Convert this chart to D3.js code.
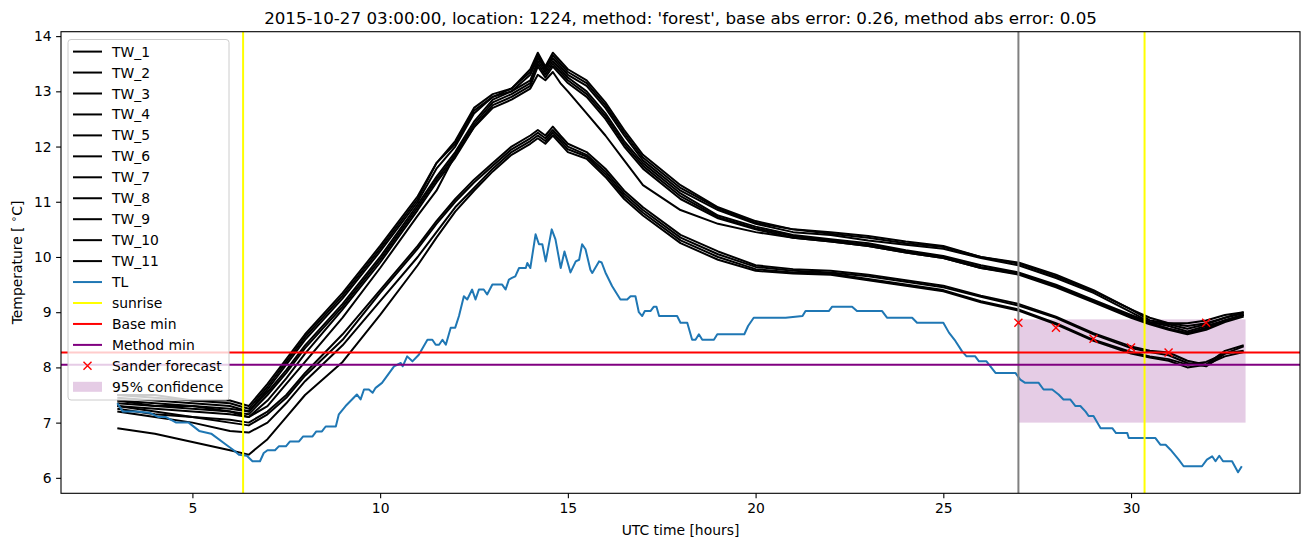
<!DOCTYPE html>
<html><head><meta charset="utf-8">
<script src="https://cdn.jsdelivr.net/npm/d3@7"></script>
<style>body{margin:0;background:#fff}svg{display:block}text{font-family:"DejaVu Sans",sans-serif;fill:#000}</style>
</head><body><svg id="c" width="1311" height="547"></svg>
<script>
// ---------------- data ----------------
const twHours = [3,4,5,6,6.5,7,7.5,8,9,10,11,11.5,12,12.5,13,13.5,14,14.2,14.4,14.6,14.8,15,15.5,16,16.5,17,18,19,20,21,22,23,24,25,26,27,28,29,30,30.5,31,31.5,32,32.5,33];
const tw1  = [7.5,7.45,7.4,7.4,7.3,7.7,8.15,8.6,9.35,10.2,11.1,11.7,12.1,12.7,12.95,13.05,13.4,13.7,13.45,13.7,13.55,13.4,13.2,12.8,12.3,11.85,11.3,10.9,10.65,10.5,10.45,10.38,10.28,10.2,10.0,9.9,9.68,9.4,9.05,8.9,8.8,8.8,8.85,8.95,9.0];
const tw2  = [7.5,7.5,7.4,7.35,7.25,7.65,8.1,8.55,9.3,10.15,11.05,11.7,12.05,12.65,12.9,13.05,13.35,13.65,13.4,13.65,13.5,13.35,13.15,12.75,12.25,11.8,11.25,10.88,10.62,10.5,10.42,10.35,10.25,10.18,10.0,9.88,9.65,9.38,9.05,8.85,8.8,8.75,8.8,8.9,9.0];
const tw3  = [7.45,7.4,7.35,7.3,7.2,7.6,8.05,8.5,9.25,10.1,11.0,11.6,12.0,12.6,12.9,13.0,13.3,13.6,13.4,13.6,13.45,13.3,13.1,12.7,12.2,11.75,11.2,10.85,10.6,10.45,10.4,10.3,10.22,10.15,9.98,9.85,9.62,9.35,9.0,8.82,8.78,8.7,8.78,8.9,8.98];
const tw4  = [7.4,7.35,7.3,7.25,7.2,7.55,7.95,8.4,9.15,10.0,10.95,11.45,11.9,12.45,12.85,13.0,13.2,13.55,13.35,13.55,13.4,13.25,13.0,12.6,12.1,11.7,11.15,10.75,10.55,10.4,10.32,10.25,10.12,10.02,9.85,9.72,9.5,9.22,8.95,8.82,8.75,8.65,8.75,8.85,8.95];
const tw5  = [7.4,7.3,7.3,7.2,7.15,7.5,7.9,8.35,9.1,9.95,10.9,11.4,11.85,12.4,12.8,12.95,13.15,13.5,13.3,13.5,13.35,13.2,12.95,12.55,12.05,11.65,11.1,10.72,10.52,10.38,10.3,10.22,10.1,10.0,9.82,9.7,9.48,9.2,8.92,8.8,8.7,8.62,8.7,8.85,8.95];
const tw6  = [7.35,7.3,7.25,7.2,7.1,7.4,7.8,8.25,9.05,9.9,10.85,11.35,11.8,12.35,12.75,12.9,13.1,13.45,13.25,13.45,13.3,13.15,12.9,12.5,12.0,11.6,11.05,10.7,10.5,10.35,10.28,10.2,10.08,9.98,9.8,9.68,9.45,9.18,8.9,8.78,8.68,8.6,8.68,8.82,8.92];
const tw7  = [7.3,7.25,7.2,7.15,7.1,7.3,7.7,8.1,8.9,9.8,10.75,11.2,11.85,12.35,12.7,12.85,13.05,13.3,13.2,13.35,13.15,13.0,12.6,12.2,11.75,11.3,10.85,10.6,10.45,10.35,10.28,10.2,10.08,9.98,9.8,9.7,9.47,9.2,8.92,8.8,8.7,8.62,8.72,8.85,8.95];
const tw8  = [7.3,7.2,7.1,7.05,7.0,7.2,7.5,7.9,8.6,9.4,10.2,10.65,11.05,11.4,11.7,12.0,12.2,12.3,12.2,12.36,12.2,12.05,11.9,11.6,11.2,10.9,10.4,10.1,9.85,9.78,9.75,9.68,9.58,9.48,9.3,9.15,8.92,8.62,8.38,8.3,8.27,8.12,8.05,8.3,8.4];
const tw9  = [7.25,7.15,7.1,7.0,6.95,7.15,7.45,7.85,8.5,9.35,10.15,10.6,11.0,11.35,11.65,11.95,12.15,12.25,12.15,12.3,12.15,12.0,11.85,11.55,11.15,10.85,10.35,10.05,9.82,9.75,9.72,9.65,9.55,9.45,9.28,9.12,8.9,8.6,8.35,8.28,8.22,8.08,8.02,8.25,8.38];
const tw10 = [7.2,7.1,7.0,6.85,6.82,7.0,7.35,7.75,8.4,9.2,10.0,10.45,10.9,11.25,11.6,11.9,12.1,12.2,12.1,12.25,12.1,11.95,11.82,11.5,11.1,10.8,10.3,10.0,9.78,9.72,9.7,9.6,9.5,9.4,9.2,9.05,8.8,8.5,8.28,8.2,8.15,8.05,8.1,8.25,8.3];
const tw11 = [6.9,6.8,6.65,6.5,6.42,6.7,7.1,7.5,8.1,8.95,9.85,10.35,10.82,11.2,11.55,11.85,12.05,12.15,12.05,12.2,12.05,11.9,11.78,11.45,11.05,10.75,10.25,9.95,9.75,9.7,9.68,9.58,9.48,9.38,9.18,9.03,8.78,8.48,8.25,8.18,8.12,8.0,8.05,8.2,8.28];
const twNames = ["TW_1","TW_2","TW_3","TW_4","TW_5","TW_6","TW_7","TW_8","TW_9","TW_10","TW_11"];

const tlHours = [3.0,3.15,3.5,3.85,4.1,4.3,4.57,4.9,5.18,5.5,5.9,6.1,6.24,6.45,6.6,6.8,6.9,7.0,7.2,7.3,7.49,7.6,7.84,7.95,8.2,8.3,8.45,8.55,8.82,8.9,9.08,9.25,9.38,9.48,9.57,9.7,9.8,9.88,10.05,10.37,10.55,10.6,10.72,10.86,11.03,11.26,11.39,11.48,11.57,11.66,11.75,11.88,12.0,12.1,12.23,12.32,12.45,12.54,12.63,12.76,12.85,12.99,13.25,13.34,13.43,13.51,13.6,13.7,13.88,13.92,14.0,14.14,14.23,14.32,14.41,14.57,14.67,14.81,14.91,15.07,15.21,15.3,15.38,15.47,15.6,15.65,15.83,15.9,16.0,16.18,16.4,16.58,16.67,16.8,16.89,16.98,17.05,17.2,17.29,17.36,17.43,17.91,18.0,18.18,18.31,18.4,18.49,18.58,18.89,18.98,19.7,19.8,19.95,20.8,21.25,21.33,21.95,22.04,22.57,22.7,23.37,23.5,24.17,24.3,25.0,25.15,25.3,25.5,25.62,25.85,25.95,26.15,26.39,26.92,27.05,27.18,27.54,27.67,27.9,28.07,28.2,28.38,28.52,28.65,28.79,28.87,29.0,29.19,29.5,29.6,29.9,29.94,30.65,30.78,30.92,31.05,31.27,31.4,31.89,32.02,32.16,32.25,32.35,32.45,32.69,32.85,32.95];
const tlTemp  = [7.35,7.2,7.2,7.18,7.1,7.1,7.0,7.0,6.85,6.8,6.6,6.5,6.42,6.4,6.3,6.3,6.45,6.5,6.5,6.57,6.57,6.66,6.66,6.75,6.75,6.84,6.84,6.93,6.93,7.15,7.3,7.42,7.51,7.42,7.6,7.6,7.54,7.63,7.72,8.02,8.08,8.02,8.2,8.11,8.23,8.5,8.5,8.41,8.41,8.5,8.41,8.72,8.72,8.93,9.29,9.23,9.41,9.23,9.41,9.41,9.32,9.5,9.5,9.41,9.59,9.62,9.65,9.8,9.8,9.89,9.8,10.41,10.23,10.23,9.92,10.5,10.32,9.8,10.1,9.72,9.92,9.95,10.23,10.14,9.77,9.71,9.92,9.9,9.72,9.47,9.23,9.23,9.29,9.29,9.0,8.93,9.02,9.02,9.1,9.1,8.93,8.93,8.81,8.81,8.5,8.5,8.6,8.5,8.5,8.6,8.6,8.75,8.9,8.9,8.93,9.02,9.02,9.1,9.1,9.02,9.02,8.9,8.9,8.81,8.81,8.63,8.5,8.29,8.2,8.2,8.11,8.11,7.9,7.9,7.78,7.72,7.72,7.6,7.6,7.51,7.42,7.42,7.3,7.3,7.2,7.12,7.12,6.9,6.9,6.81,6.81,6.72,6.72,6.6,6.6,6.51,6.33,6.21,6.21,6.33,6.39,6.3,6.4,6.3,6.3,6.1,6.21];

const sunriseHours = [6.35, 30.36];
const forecastHour = 27;
const baseMin = 8.27;
const methodMin = 8.05;
const sanderHours = [27, 28, 29, 30, 31, 32];
const sanderTemp  = [8.81, 8.72, 8.52, 8.36, 8.27, 8.81];
const confHours = [27, 33.05];
const confRange = [7.0, 8.87];
const xTicks = [5, 10, 15, 20, 25, 30];
const yTicks = [6, 7, 8, 9, 10, 11, 12, 13, 14];
const titleText = "2015-10-27 03:00:00, location: 1224, method: 'forest', base abs error: 0.26, method abs error: 0.05";

// ---------------- chart ----------------
const svg = d3.select("#c");
const L = 61, R = 1300, T = 31.7, B = 493.3;
const x = d3.scaleLinear().domain([1.5, 34.5]).range([L, R]);
const y = d3.scaleLinear().domain([5.72, 14.08]).range([B, T]);

svg.append("defs").append("clipPath").attr("id","clip")
  .append("rect").attr("x",L).attr("y",T).attr("width",R-L).attr("height",B-T);
const g = svg.append("g").attr("clip-path","url(#clip)");

const purpleFill = "#e5cce5";
g.append("rect").attr("x", x(confHours[0])).attr("width", x(confHours[1]) - x(confHours[0]))
  .attr("y", y(confRange[1])).attr("height", y(confRange[0]) - y(confRange[1]))
  .attr("fill", purpleFill);

const line = d3.line().x(d => x(d[0])).y(d => y(d[1]));
const twSeries = [tw1,tw2,tw3,tw4,tw5,tw6,tw7,tw8,tw9,tw10,tw11];
twSeries.forEach(s => {
  g.append("path").datum(twHours.map((h,i) => [h, s[i]])).attr("d", line)
    .attr("fill","none").attr("stroke","#000").attr("stroke-width",2).attr("stroke-linejoin","round");
});
g.append("path").datum(tlHours.map((h,i)=>[h, tlTemp[i]])).attr("d", line)
  .attr("fill","none").attr("stroke","#1f77b4").attr("stroke-width",2).attr("stroke-linejoin","round");

g.append("line").attr("x1",x(forecastHour)).attr("x2",x(forecastHour)).attr("y1",T).attr("y2",B)
  .attr("stroke","#808080").attr("stroke-width",2);
sunriseHours.forEach(h => g.append("line").attr("x1",x(h)).attr("x2",x(h)).attr("y1",T).attr("y2",B)
  .attr("stroke","#ffff00").attr("stroke-width",2));
g.append("line").attr("x1",L).attr("x2",R).attr("y1",y(baseMin)).attr("y2",y(baseMin))
  .attr("stroke","#ff0000").attr("stroke-width",2);
g.append("line").attr("x1",L).attr("x2",R).attr("y1",y(methodMin)).attr("y2",y(methodMin))
  .attr("stroke","#800080").attr("stroke-width",2);
const cross = (sel, cx, cy, s) => {
  sel.append("path").attr("d",`M${cx-s},${cy-s}L${cx+s},${cy+s}M${cx-s},${cy+s}L${cx+s},${cy-s}`)
    .attr("stroke","#ff0000").attr("stroke-width",1.4).attr("fill","none");
};
sanderHours.forEach((h,i) => cross(g, x(h), y(sanderTemp[i]), 4));

svg.append("rect").attr("x",L).attr("y",T).attr("width",R-L).attr("height",B-T)
  .attr("fill","none").attr("stroke","#000").attr("stroke-width",1.1);

const xAxis = svg.append("g").attr("transform",`translate(0,${B})`)
  .call(d3.axisBottom(x).tickValues(xTicks).tickSize(4.9).tickPadding(4.5).tickFormat(d3.format("d")));
const yAxis = svg.append("g").attr("transform",`translate(${L},0)`)
  .call(d3.axisLeft(y).tickValues(yTicks).tickSize(4.9).tickPadding(4.5).tickFormat(d3.format("d")));
[xAxis, yAxis].forEach(a => {
  a.select(".domain").remove();
  a.selectAll(".tick line").attr("stroke","#000").attr("stroke-width",1.1);
  a.selectAll(".tick text").attr("font-size","13.9px").attr("font-family","DejaVu Sans").attr("fill","#000");
});

svg.append("text").attr("x",(L+R)/2).attr("y",24).attr("text-anchor","middle")
  .attr("font-size","16.7px").text(titleText);
svg.append("text").attr("x",(L+R)/2).attr("y",535).attr("text-anchor","middle")
  .attr("font-size","13.9px").text("UTC time [hours]");
const yl = svg.append("text").attr("transform",`translate(22,${(T+B)/2}) rotate(-90)`)
  .attr("text-anchor","middle").attr("font-size","13.9px");
yl.append("tspan").text("Temperature [ ");
yl.append("tspan").attr("font-size","10px").attr("dy","-5").text("∘");
yl.append("tspan").attr("dy","5").text("C]");

// ---------------- legend ----------------
const legendItems = twNames.map(n => ({label:n, type:"line", color:"#000"}))
  .concat([
    {label:"TL", type:"line", color:"#1f77b4"},
    {label:"sunrise", type:"line", color:"#ffff00"},
    {label:"Base min", type:"line", color:"#ff0000"},
    {label:"Method min", type:"line", color:"#800080"},
    {label:"Sander forecast", type:"marker", color:"#ff0000"},
    {label:"95% confidence", type:"patch", color:purpleFill}
  ]);
const lg = svg.append("g");
lg.append("rect").attr("x",68).attr("y",39.5).attr("width",161).attr("height",360.5).attr("rx",3)
  .attr("fill","#fff").attr("fill-opacity",0.8).attr("stroke","#cccccc").attr("stroke-width",1);
legendItems.forEach((it,i) => {
  const cy = 51.6 + 20.95*i;
  if (it.type === "line") {
    lg.append("line").attr("x1",73).attr("x2",102).attr("y1",cy).attr("y2",cy)
      .attr("stroke",it.color).attr("stroke-width",2);
  } else if (it.type === "marker") {
    cross(lg, 87.5, cy, 4);
  } else {
    lg.append("rect").attr("x",73).attr("y",cy-5).attr("width",29).attr("height",10).attr("fill",it.color);
  }
  lg.append("text").attr("x",112).attr("y",cy).attr("dy","0.36em").attr("font-size","13.9px").text(it.label);
});
</script></body></html>
